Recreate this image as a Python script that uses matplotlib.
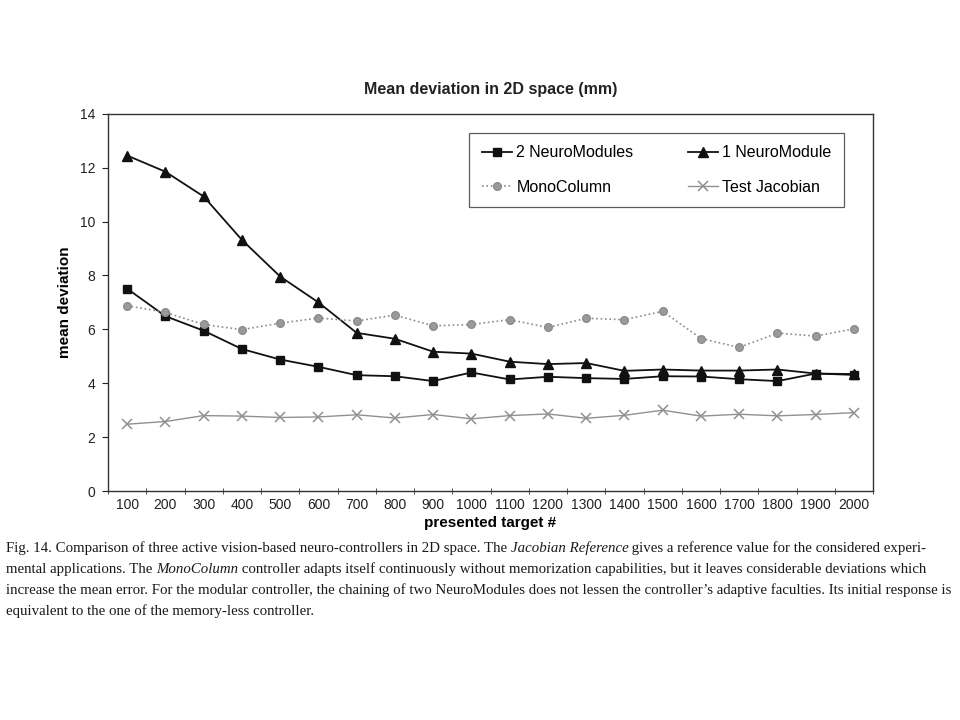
import numpy as np
import matplotlib; matplotlib.use('Agg')
import matplotlib.pyplot as plt

# ─── Data ─────────────────────────────────────────────────
targets = [100, 200, 300, 400, 500, 600, 700, 800, 900, 1000,
           1100, 1200, 1300, 1400, 1500, 1600, 1700, 1800, 1900, 2000]
two_modules = [7.51, 6.49, 5.95, 5.27, 4.88, 4.61, 4.30, 4.26, 4.08, 4.40,
               4.14, 4.24, 4.19, 4.16, 4.26, 4.25, 4.15, 4.08, 4.36, 4.31]
one_module = [12.45, 11.85, 10.93, 9.32, 7.96, 7.00, 5.87, 5.65, 5.17, 5.10,
              4.80, 4.71, 4.75, 4.46, 4.51, 4.47, 4.47, 4.51, 4.36, 4.34]
mono_column = [6.88, 6.63, 6.18, 5.99, 6.23, 6.42, 6.31, 6.53, 6.13, 6.18,
               6.36, 6.07, 6.41, 6.36, 6.67, 5.66, 5.33, 5.86, 5.75, 6.02]
test_jacobian = [2.48, 2.58, 2.80, 2.78, 2.73, 2.75, 2.83, 2.71, 2.84, 2.68,
                 2.80, 2.86, 2.70, 2.81, 3.00, 2.78, 2.85, 2.79, 2.84, 2.91]
y_ticks = [0, 2, 4, 6, 8, 10, 12, 14]

caption = [
    ("Fig. 14. Comparison of three active vision-based neuro-controllers in 2D space. The ",
     "Jacobian Reference", " gives a reference value for the considered experi-"),
    ("mental applications. The ", "MonoColumn",
     " controller adapts itself continuously without memorization capabilities, but it leaves considerable deviations which"),
    ("increase the mean error. For the modular controller, the chaining of two NeuroModules does not lessen the controller\u2019s adaptive faculties. Its initial response is", "", ""),
    ("equivalent to the one of the memory-less controller.", "", ""),
]

SANS = 'Liberation Sans'

# ─── Figure ───────────────────────────────────────────────
fig = plt.figure(figsize=(9.6, 7.2), dpi=100)
ax = fig.add_axes([0.1125, 0.318, 0.797, 0.524])

x = np.arange(len(targets))
h2, = ax.plot(x, two_modules, '-s', color='#111111', lw=1.3, ms=5.5,
              mfc='#111111', mec='#111111', label='2 NeuroModules')
h1, = ax.plot(x, one_module, '-^', color='#111111', lw=1.3, ms=6.5,
              mfc='#111111', label='1 NeuroModule')
hm, = ax.plot(x, mono_column, ':', marker='o', color='#8c8c8c', lw=1.2, ms=5.5,
              mfc='#9a9a9a', mec='#8c8c8c', label='MonoColumn')
hj, = ax.plot(x, test_jacobian, '-', marker='x', color='#909090', lw=1.0, ms=6.5,
              mew=1.1, label='Test Jacobian')

ax.set_xlim(-0.5, len(targets) - 0.5)
ax.set_ylim(0, 14)
ax.set_yticks(y_ticks)
ax.set_xticks(x)
ax.set_xticklabels([str(t) for t in targets])
ax.set_xticks(np.arange(-0.5, len(targets), 1), minor=True)
ax.tick_params(axis='x', which='major', length=0, pad=5, colors='#222222')
ax.tick_params(axis='x', which='minor', length=4, direction='inout', color='#333333')
ax.tick_params(axis='y', length=4, colors='#222222', pad=5)
for lbl in ax.get_xticklabels():
    lbl.set_family(SANS)
    lbl.set_fontsize(10)
for lbl in ax.get_yticklabels():
    lbl.set_family(SANS)
    lbl.set_fontsize(10)
for s in ax.spines.values():
    s.set_color('#333333')
    s.set_linewidth(1.0)

ax.set_xlabel('presented target #', fontsize=11, fontweight='bold', family=SANS, labelpad=3)
ax.set_ylabel('mean deviation', fontsize=11, fontweight='bold', family=SANS, labelpad=6)
fig.text(0.511, 0.876, 'Mean deviation in 2D space (mm)', ha='center', va='center',
         fontsize=11.5, fontweight='bold', family=SANS, color='#222222')

# column-wise fill: order so rows read 2NM | 1NM, Mono | Jacobian
leg = ax.legend([h2, hm, h1, hj],
                ['2 NeuroModules', 'MonoColumn', '1 NeuroModule', 'Test Jacobian'],
                loc='upper left', bbox_to_anchor=(0.472, 0.95), borderaxespad=0,
                ncol=2, prop={'family': SANS, 'size': 11.5},
                frameon=True, fancybox=False, edgecolor='#333333',
                handlelength=1.9, columnspacing=3.4, labelspacing=1.2,
                borderpad=0.8, handletextpad=0.25)
leg.get_frame().set_linewidth(0.9)

# ─── Caption ──────────────────────────────────────────────
renderer = fig.canvas.get_renderer()
y0 = 0.234
for i, (a, b, c) in enumerate(caption):
    yy = y0 - i * 0.0292
    xx = 0.006
    for part, style in ((a, 'normal'), (b, 'italic'), (c, 'normal')):
        if not part:
            continue
        t = fig.text(xx, yy, part, fontsize=10.7, family='Liberation Serif',
                     style=style, color='#1a1a1a', va='baseline')
        bb = t.get_window_extent(renderer)
        xx += bb.width / fig.bbox.width

fig.savefig('out.png', dpi=100)
